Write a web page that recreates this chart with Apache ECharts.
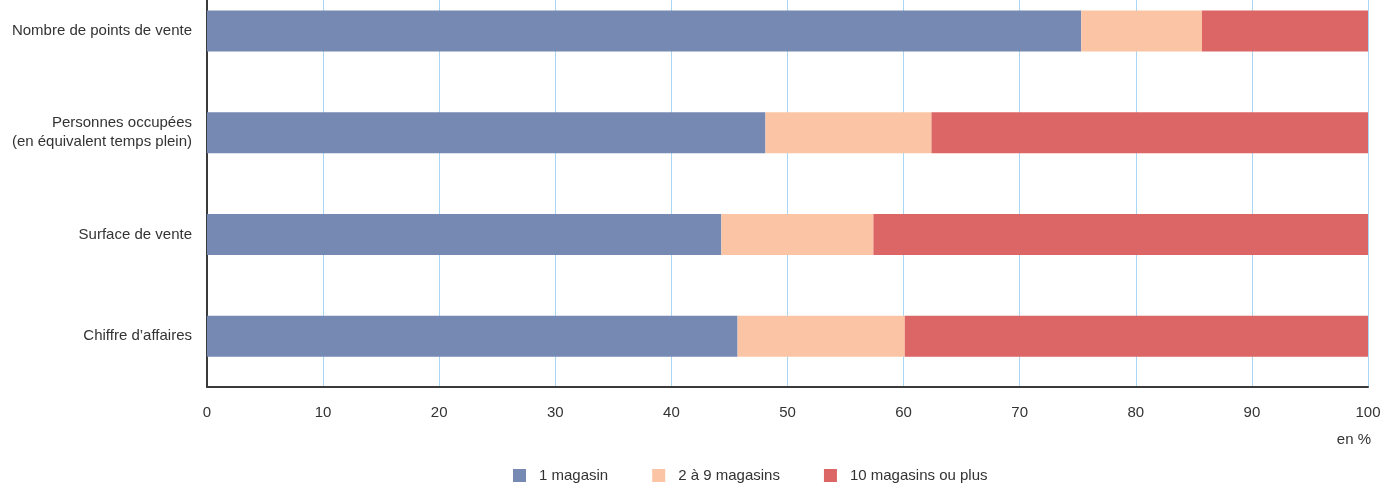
<!DOCTYPE html>
<html>
<head>
<meta charset="utf-8">
<script src="https://cdn.jsdelivr.net/npm/echarts@6/dist/echarts.min.js"></script>
<style>
  html, body { margin: 0; padding: 0; background: #fff; }
  #chart { width: 1396px; height: 486px; }
</style>
</head>
<body>
<div id="chart"></div>
<script>
// Indicator names (top to bottom)
const categories = [
  'Nombre de points de vente',
  'Personnes occupées\n(en équivalent temps plein)',
  'Surface de vente',
  "Chiffre d’affaires"
];
// Shares in % by number of stores in the network
const oneStore = [75.3, 48.1, 44.3, 45.7];
const twoToNine = [10.4, 14.3, 13.1, 14.4];
const tenOrMore = [14.3, 37.6, 42.6, 39.9];
const xTicks = [0, 10, 20, 30, 40, 50, 60, 70, 80, 90, 100];

const seriesNames = ['1 magasin', '2 à 9 magasins', '10 magasins ou plus'];
const colors = ['#7589b3', '#fbc4a4', '#dc6565'];
const font = 'Liberation Sans, Arial, sans-serif';

const chart = echarts.init(document.getElementById('chart'), null, { renderer: 'canvas' });

const mk = (name, data, color) => ({
  name: name,
  type: 'bar',
  stack: 'total',
  data: data,
  barWidth: 41,
  itemStyle: { color: color },
  emphasis: { disabled: true }
});

chart.setOption({
  animation: false,
  textStyle: { fontFamily: font },
  grid: {
    left: 207, right: 28, top: -20, height: 407,
    containLabel: false,
    outerBoundsMode: 'none'
  },
  legend: {
    top: 463,
    left: 508,
    itemWidth: 13,
    itemHeight: 13,
    itemGap: 44,
    icon: 'rect',
    textStyle: { fontSize: 15, color: '#333', fontFamily: font, padding: [0, 0, 0, 8] },
    data: seriesNames
  },
  xAxis: {
    type: 'value',
    min: xTicks[0],
    max: xTicks[xTicks.length - 1],
    interval: 10,
    name: 'en %',
    nameLocation: 'end',
    nameGap: 3,
    nameTextStyle: { fontSize: 15, color: '#333', align: 'right', verticalAlign: 'top', padding: [45, 0, 0, 0], fontFamily: font },
    axisLine: { show: true, lineStyle: { color: '#3a3a3a', width: 2 } },
    axisTick: { show: false },
    axisLabel: { fontSize: 15, color: '#333', margin: 18, fontFamily: font },
    splitLine: { show: true, lineStyle: { color: '#a8d6f5', width: 1 } }
  },
  yAxis: {
    type: 'category',
    inverse: true,
    data: categories,
    axisLine: { show: true, lineStyle: { color: '#3a3a3a', width: 2 } },
    axisTick: { show: false },
    axisLabel: { fontSize: 15, color: '#333', margin: 15, lineHeight: 19, align: 'right', fontFamily: font },
    splitLine: { show: false }
  },
  series: [
    mk(seriesNames[0], oneStore, colors[0]),
    mk(seriesNames[1], twoToNine, colors[1]),
    mk(seriesNames[2], tenOrMore, colors[2])
  ]
});
</script>
</body>
</html>
